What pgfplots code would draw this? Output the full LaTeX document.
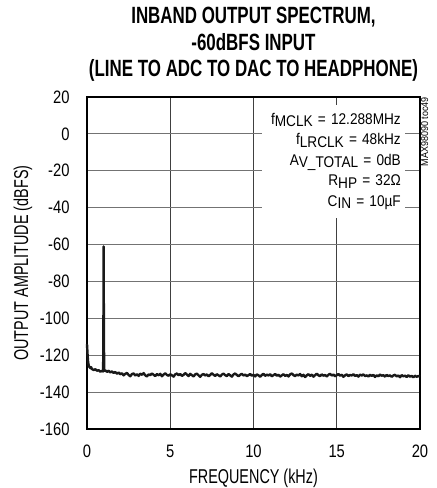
\documentclass[border=0pt]{standalone}
\usepackage{fontspec}
\setmainfont{Liberation Sans}[FakeStretch=0.85]
\newfontfamily\titlefont{Liberation Sans Bold}[FakeStretch=0.72]
\newfontfamily\labfont{Liberation Sans}[FakeStretch=0.72]
\newfontfamily\tickfont{Liberation Sans}[FakeStretch=0.82]
\newfontfamily\annfont{Liberation Sans}[FakeStretch=0.88]
\newfontfamily\tocfont{Liberation Sans}[FakeStretch=0.9]
\usepackage{pgfplots}
\pgfplotsset{compat=1.18}
\newcommand\sub[1]{\raisebox{-0.3ex}{#1}}
\begin{document}
\begin{tikzpicture}
\begin{axis}[
  name=ax,
  scale only axis,
  width=333pt, height=332pt,
  xmin=0, xmax=20, ymin=-160, ymax=20,
  xtick={0,5,10,15,20}, ytick={-160,-140,...,20},
  major tick length=0pt,
  /pgf/number format/assume math mode=true,
  tick label style={font=\tickfont\fontsize{18}{18}\selectfont},
  yticklabel style={anchor=east, xshift=-14pt},
  xticklabel style={anchor=center, yshift=-22.5pt},
  xlabel={FREQUENCY (kHz)},
  ylabel={OUTPUT AMPLITUDE (dBFS)},
  label style={font=\labfont\fontsize{20}{20}\selectfont},
  xlabel style={at={([yshift=-49pt]rel axis cs:0.5,0)}, anchor=center},
  ylabel style={at={([xshift=-64pt]rel axis cs:0,0.5)}, anchor=center},
  xmajorgrids, ymajorgrids,
  x grid style={black!75, line width=0.9pt},
  y grid style={black!55, line width=0.9pt},
  axis line style={line width=2.2pt},
  title={INBAND OUTPUT SPECTRUM,\\-60dBFS INPUT\\(LINE TO ADC TO DAC TO HEADPHONE)},
  title style={font=\titlefont\fontsize{23.5}{26.5}\selectfont, align=center, yshift=6pt},
  clip=false,
]
\addplot[black!90, line width=2.4pt, line join=round] table {
0 -114
0.03 -119
0.06 -123
0.1 -125.5
0.15 -126.5
0.2 -127
0.25 -126.5
0.3 -127.5
0.4 -128
0.5 -127.6
0.6 -128.4
0.7 -128.1
0.8 -128.9
0.9 -128.5
0.97 -128.8
0.99 -95
1.0 -61
1.01 -95
1.03 -128.5
1.1 -128.2
1.2 -129.0
1.3 -128.4
1.4 -129.3
1.5 -128.8
1.6 -129.6
1.7 -129.1
1.8 -130.0
1.9 -129.4
2.0 -130.3
2.1 -129.8
2.2 -130.9
2.3 -130.1
2.4 -129.6
2.5 -130.7
2.6 -131.4
2.7 -130.2
2.8 -129.9
2.9 -131.0
3.0 -130.3
3.1 -131.2
3.2 -130.0
3.3 -130.6
3.4 -129.7
3.5 -130.9
3.6 -131.5
3.7 -130.4
3.8 -130.8
3.9 -129.9
4.0 -130.6
4.1 -131.3
4.2 -130.2
4.3 -130.9
4.4 -130.1
4.5 -131.4
4.6 -130.5
4.7 -129.8
4.8 -130.7
4.9 -131.1
5.0 -130.3
5.1 -130.9
5.2 -131.6
5.3 -130.4
5.4 -129.9
5.5 -130.8
5.6 -130.2
5.7 -131.2
5.8 -130.6
5.9 -129.7
6.0 -130.5
6.1 -131.3
6.2 -130.1
6.3 -130.8
6.4 -131.5
6.5 -130.4
6.6 -130.0
6.7 -130.9
6.8 -131.7
6.9 -130.6
7.0 -130.2
7.1 -131.0
7.2 -130.4
7.3 -131.4
7.4 -130.7
7.5 -129.8
7.6 -130.6
7.7 -131.2
7.8 -130.3
7.9 -130.9
8.0 -131.5
8.1 -130.5
8.2 -130.0
8.3 -130.8
8.4 -131.3
8.5 -130.2
8.6 -130.9
8.7 -131.6
8.8 -130.4
8.9 -129.9
9.0 -130.7
9.1 -131.4
9.2 -130.6
9.3 -130.1
9.4 -131.0
9.5 -130.5
9.6 -131.3
9.7 -130.8
9.8 -130.2
9.9 -131.1
10.0 -130.6
10.1 -131.5
10.2 -130.4
10.3 -130.9
10.4 -131.7
10.5 -130.7
10.6 -130.1
10.7 -131.2
10.8 -130.5
10.9 -131.0
11.0 -130.3
11.1 -131.4
11.2 -130.8
11.3 -130.2
11.4 -131.1
11.5 -130.6
11.6 -131.6
11.7 -130.9
11.8 -130.3
11.9 -131.2
12.0 -130.7
12.1 -131.5
12.2 -130.4
12.3 -129.9
12.4 -130.8
12.5 -131.3
12.6 -130.5
12.7 -131.0
12.8 -130.2
12.9 -131.4
13.0 -130.6
13.1 -131.8
13.2 -130.9
13.3 -130.3
13.4 -131.2
13.5 -130.5
13.6 -131.6
13.7 -130.8
13.8 -130.0
13.9 -130.9
14.0 -131.3
14.1 -130.4
14.2 -131.1
14.3 -130.7
14.4 -131.5
14.5 -130.6
14.6 -130.1
14.7 -131.0
14.8 -130.5
14.9 -131.4
15.0 -130.8
15.1 -130.2
15.2 -131.1
15.3 -130.6
15.4 -131.7
15.5 -130.9
15.6 -130.4
15.7 -131.3
15.8 -130.7
15.9 -131.0
16.0 -130.3
16.1 -131.2
16.2 -130.8
16.3 -131.6
16.4 -130.5
16.5 -131.0
16.6 -130.4
16.7 -131.3
16.8 -130.9
16.9 -131.5
17.0 -130.6
17.1 -131.2
17.2 -130.7
17.3 -131.8
17.4 -130.9
17.5 -131.4
17.6 -130.5
17.7 -131.1
17.8 -130.8
17.9 -131.6
18.0 -130.7
18.1 -131.3
18.2 -130.9
18.3 -131.7
18.4 -131.0
18.5 -130.6
18.6 -131.5
18.7 -131.0
18.8 -131.9
18.9 -130.8
19.0 -131.4
19.1 -131.1
19.2 -131.8
19.3 -130.9
19.4 -131.6
19.5 -131.2
19.6 -132.0
19.7 -131.1
19.8 -131.7
19.9 -131.3
20.0 -131.6
};
\node[anchor=north east, fill=white, align=right, text width=135pt, inner xsep=4pt, inner ysep=8pt,
      font=\annfont\fontsize{15.5}{20.5}\selectfont]
  at (rel axis cs:0.955,0.976)
  {f\sub{MCLK} = 12.288MHz\\ f\sub{LRCLK} = 48kHz\\ A\sub{V\_TOTAL} = 0dB\\ R\sub{HP} = 32Ω\\ C\sub{IN} = 10µF};
\node[rotate=90, anchor=east, font=\tocfont\fontsize{10}{10}\selectfont, inner sep=0pt]
  at (rel axis cs:1.014,1.0) {MAX98090 toc49};
\end{axis}
\pgfresetboundingbox
\path[use as bounding box] ([shift={(-87pt,-59pt)}]ax.south west) rectangle ([shift={(17pt,97pt)}]ax.north east);
\end{tikzpicture}
\end{document}
